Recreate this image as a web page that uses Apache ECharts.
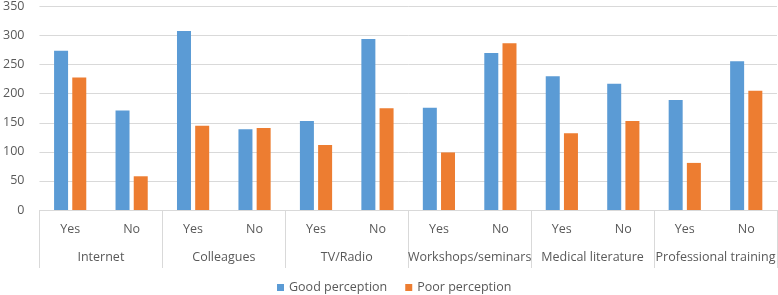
<!DOCTYPE html>
<html>
<head>
<meta charset="utf-8">
<script src="https://cdn.jsdelivr.net/npm/echarts@6/dist/echarts.min.js"></script>
<style>
  html, body { margin: 0; padding: 0; background: #fff; }
  #chart { width: 778px; height: 295px; }
</style>
</head>
<body>
<div id="chart"></div>
<script>
var groups = ["Internet", "Colleagues", "TV/Radio", "Workshops/seminars", "Medical literature", "Professional training"];
var answers = ["Yes", "No", "Yes", "No", "Yes", "No", "Yes", "No", "Yes", "No", "Yes", "No"];
var goodPerception = [274, 171, 308, 139, 153, 294, 176, 270, 230, 217, 189, 256];
var poorPerception = [228, 58, 145, 141, 112, 175, 99, 287, 132, 153, 81, 205];
var yTicks = [0, 50, 100, 150, 200, 250, 300, 350];

var fontFamily = "'Open Sans', 'Liberation Sans', sans-serif";
var textColor = "#595959";
var lineColor = "#D9D9D9";

var chart = echarts.init(document.getElementById("chart"));
chart.setOption({
  animation: false,
  textStyle: { fontFamily: fontFamily },
  grid: { left: 35, right: 0, top: 5, bottom: 85, containLabel: false },
  legend: {
    left: 277,
    top: 281,
    padding: 0,
    itemWidth: 7,
    itemHeight: 7,
    itemGap: 18,
    icon: "rect",
    textStyle: { fontSize: 12.5, color: textColor, fontFamily: fontFamily },
    data: ["Good perception", "Poor perception"]
  },
  xAxis: [
    {
      type: "category",
      data: answers,
      position: "bottom",
      axisLine: { lineStyle: { color: lineColor } },
      axisTick: { show: false },
      axisLabel: { margin: 13, fontSize: 12.5, color: textColor, interval: 0 }
    },
    {
      type: "category",
      data: groups,
      position: "bottom",
      axisLine: { show: false },
      axisTick: { show: true, length: 58, lineStyle: { color: lineColor } },
      axisLabel: { margin: 41, fontSize: 12.5, color: textColor, interval: 0 }
    }
  ],
  yAxis: {
    type: "value",
    min: yTicks[0],
    max: yTicks[yTicks.length - 1],
    interval: 50,
    axisLine: { show: false },
    axisTick: { show: false },
    axisLabel: { margin: 15, fontSize: 12.5, color: textColor },
    splitLine: { lineStyle: { color: lineColor } }
  },
  series: [
    {
      name: "Good perception",
      type: "bar",
      xAxisIndex: 0,
      barWidth: 14,
      barGap: "30%",
      itemStyle: { color: "#5B9BD5" },
      data: goodPerception
    },
    {
      name: "Poor perception",
      type: "bar",
      xAxisIndex: 0,
      barWidth: 14,
      barGap: "30%",
      itemStyle: { color: "#ED7D31" },
      data: poorPerception
    }
  ]
});
</script>
</body>
</html>
